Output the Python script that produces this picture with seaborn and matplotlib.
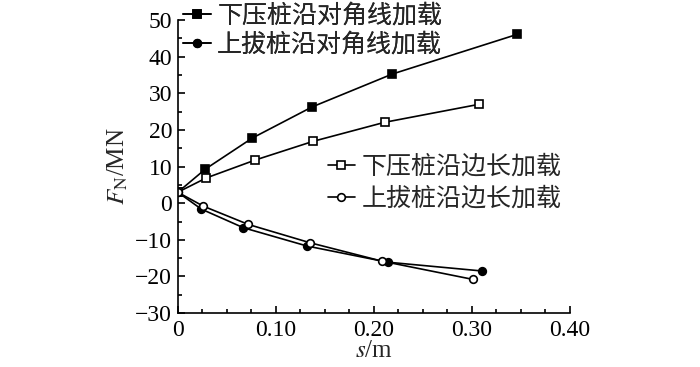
import numpy as np
import pandas as pd
import matplotlib
matplotlib.use("Agg")
import matplotlib.pyplot as plt
import seaborn as sns
from matplotlib.ticker import MultipleLocator

# data
s_push_diag = [0, 0.028, 0.076, 0.137, 0.219, 0.346]
f_push_diag = [3, 9.3, 17.8, 26.3, 35.3, 46.1]

s_pull_diag = [0, 0.024, 0.067, 0.132, 0.214, 0.310]
f_pull_diag = [3, -1.6, -6.7, -11.7, -16.1, -18.5]

s_push_side = [0, 0.029, 0.079, 0.138, 0.211, 0.307]
f_push_side = [3, 6.9, 11.8, 16.9, 22.1, 27.0]

s_pull_side = [0, 0.026, 0.072, 0.135, 0.208, 0.301]
f_pull_side = [3, -0.8, -5.8, -10.8, -15.8, -20.8]

labels = ["下压桩沿对角线加载", "上拔桩沿对角线加载", "下压桩沿边长加载", "上拔桩沿边长加载"]
xtick_labels = ["0", "0.10", "0.20", "0.30", "0.40"]

sns.set_style("ticks")
plt.rcParams["font.family"] = ["Liberation Serif", "Noto Sans CJK SC"]
plt.rcParams["mathtext.fontset"] = "stix"
plt.rcParams["axes.unicode_minus"] = True

fig = plt.figure(figsize=(7, 3.67), dpi=100)
ax = fig.add_axes([0.254, 0.147, 0.56, 0.798])

common = dict(color="black", linewidth=1.2, markersize=5.5, markeredgecolor="black",
              markeredgewidth=1.2, ax=ax)
sns.lineplot(x=s_push_diag, y=f_push_diag, marker="s", markerfacecolor="black",
             label=labels[0], **common)
sns.lineplot(x=s_pull_diag, y=f_pull_diag, marker="o", markerfacecolor="black",
             label=labels[1], **common)
sns.lineplot(x=s_push_side, y=f_push_side, marker="s", markerfacecolor="white",
             label=labels[2], **common)
sns.lineplot(x=s_pull_side, y=f_pull_side, marker="o", markerfacecolor="white",
             label=labels[3], **common)

ax.set_xlim(0, 0.40)
ax.set_ylim(-30, 50)
ax.xaxis.set_minor_locator(MultipleLocator(0.025))
ax.yaxis.set_major_locator(MultipleLocator(10))
ax.yaxis.set_minor_locator(MultipleLocator(5))
ax.set_xticks([0, 0.1, 0.2, 0.3, 0.4])
ax.set_xticklabels(xtick_labels)
ax.tick_params(which="both", direction="in", width=1.2, labelsize=17, colors="black")
ax.tick_params(which="major", length=5)
ax.tick_params(which="minor", length=3)
ax.tick_params(axis="x", pad=5)
ax.tick_params(axis="y", pad=4)
for sp in ["top", "right"]:
    ax.spines[sp].set_visible(False)
for sp in ["left", "bottom"]:
    ax.spines[sp].set_linewidth(1.2)
    ax.spines[sp].set_color("black")

ax.set_xlabel(r"$s$/m", fontsize=18, labelpad=-1)
ax.set_ylabel(r"$F_{\mathrm{N}}$/MN", fontsize=18, labelpad=4)

handles, labs = ax.get_legend_handles_labels()
leg_kw = dict(frameon=False, fontsize=18, handlelength=1.1, handletextpad=0.25,
              borderpad=0, borderaxespad=0)
leg1 = fig.legend(handles[:2], labs[:2], loc="upper left",
                  bbox_to_anchor=(0.262, 0.99), labelspacing=0.22, **leg_kw)
fig.add_artist(leg1)
ax.get_legend().remove()
fig.legend(handles[2:], labs[2:], loc="upper left",
           bbox_to_anchor=(0.468, 0.578), labelspacing=0.33, **leg_kw)

fig.savefig("out.png", dpi=100)
